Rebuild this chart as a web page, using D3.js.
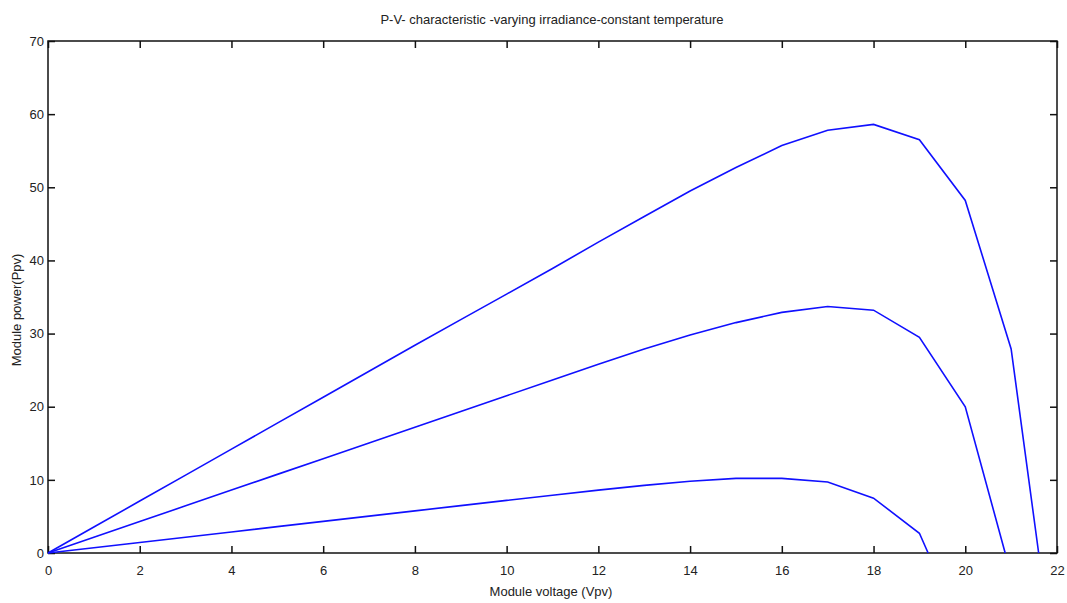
<!DOCTYPE html>
<html>
<head>
<meta charset="utf-8">
<script src="https://cdn.jsdelivr.net/npm/d3@7"></script>
<style>
  body { margin: 0; background: #fff; }
  text { font-family: "Liberation Sans Narrow", "Liberation Sans", Arial, sans-serif; fill: #222; }
</style>
</head>
<body>
<div id="chart"></div>
<script>
const width = 1067, height = 603;
const margin = { top: 41, right: 10, bottom: 50, left: 48 };

// module voltage (V) and power (W) for three irradiance levels
const voltHigh = [0, 1, 2, 3, 4, 5, 6, 7, 8, 9, 10, 11, 12, 13, 14, 15, 16, 17, 18, 19, 20, 21, 21.6];
const powerHigh = [0, 3.55, 7.1, 10.65, 14.2, 17.75, 21.3, 24.85, 28.4, 31.9, 35.4, 38.9, 42.5, 46.0, 49.5, 52.7, 55.7, 57.8, 58.6, 56.5, 48.2, 27.9, 0];

const voltMid = [0, 1, 2, 3, 4, 5, 6, 7, 8, 9, 10, 11, 12, 13, 14, 15, 16, 17, 18, 19, 20, 20.87];
const powerMid = [0, 2.15, 4.3, 6.45, 8.6, 10.75, 12.9, 15.05, 17.2, 19.35, 21.5, 23.65, 25.8, 27.9, 29.8, 31.5, 32.9, 33.7, 33.2, 29.5, 20.0, 0];

const voltLow = [0, 1, 2, 3, 4, 5, 6, 7, 8, 9, 10, 11, 12, 13, 14, 15, 16, 17, 18, 19, 19.19];
const powerLow = [0, 0.72, 1.44, 2.16, 2.88, 3.6, 4.32, 5.04, 5.76, 6.48, 7.2, 7.9, 8.6, 9.25, 9.8, 10.2, 10.2, 9.7, 7.5, 2.7, 0];

const xTicks = [0, 2, 4, 6, 8, 10, 12, 14, 16, 18, 20, 22];
const yTicks = [0, 10, 20, 30, 40, 50, 60, 70];

const series = [
  { volt: voltHigh, power: powerHigh },
  { volt: voltMid, power: powerMid },
  { volt: voltLow, power: powerLow }
];

const svg = d3.select("#chart").append("svg")
  .attr("width", width)
  .attr("height", height);

const x = d3.scaleLinear().domain([0, 22]).range([margin.left, width - margin.right]);
const y = d3.scaleLinear().domain([0, 70]).range([height - margin.bottom, margin.top]);

const tick = 7;

// bottom axis (ticks point inward)
svg.append("g")
  .attr("transform", `translate(0,${y(0)})`)
  .call(d3.axisBottom(x).tickValues(xTicks).tickSize(-tick).tickPadding(tick + 6).tickSizeOuter(0))
  .call(g => g.select(".domain").remove());

// top axis
svg.append("g")
  .attr("transform", `translate(0,${y(70)})`)
  .call(d3.axisTop(x).tickValues(xTicks).tickSize(-tick).tickFormat("").tickSizeOuter(0))
  .call(g => g.select(".domain").remove());

// left axis
svg.append("g")
  .attr("transform", `translate(${x(0)},0)`)
  .call(d3.axisLeft(y).tickValues(yTicks).tickSize(-tick).tickPadding(4).tickSizeOuter(0))
  .call(g => g.select(".domain").remove());

// right axis
svg.append("g")
  .attr("transform", `translate(${x(22)},0)`)
  .call(d3.axisRight(y).tickValues(yTicks).tickSize(-tick).tickFormat("").tickSizeOuter(0))
  .call(g => g.select(".domain").remove());

svg.selectAll(".tick line").attr("stroke", "#111").attr("stroke-width", 1.5);
svg.selectAll(".tick text").attr("font-size", 13).attr("fill", "#222")
  .attr("font-family", "Liberation Sans Narrow, Liberation Sans, Arial, sans-serif");

// box
svg.append("rect")
  .attr("x", x(0))
  .attr("y", y(70))
  .attr("width", x(22) - x(0))
  .attr("height", y(0) - y(70))
  .attr("fill", "none")
  .attr("stroke", "#111")
  .attr("stroke-width", 1.5);

const line = d3.line()
  .x(d => x(d[0]))
  .y(d => y(d[1]));

svg.selectAll(".curve")
  .data(series)
  .enter()
  .append("path")
  .attr("class", "curve")
  .attr("d", s => line(s.volt.map((v, i) => [v, s.power[i]])))
  .attr("fill", "none")
  .attr("stroke", "#1010ff")
  .attr("stroke-width", 1.6);

svg.append("text")
  .attr("x", 552)
  .attr("y", 24)
  .attr("text-anchor", "middle")
  .attr("font-size", 13)
  .text("P-V- characteristic -varying irradiance-constant temperature");

svg.append("text")
  .attr("x", 551)
  .attr("y", 596)
  .attr("text-anchor", "middle")
  .attr("font-size", 13)
  .text("Module voltage (Vpv)");

svg.append("text")
  .attr("transform", "translate(21,310) rotate(-90)")
  .attr("text-anchor", "middle")
  .attr("font-size", 13)
  .text("Module power(Ppv)");
</script>
</body>
</html>
